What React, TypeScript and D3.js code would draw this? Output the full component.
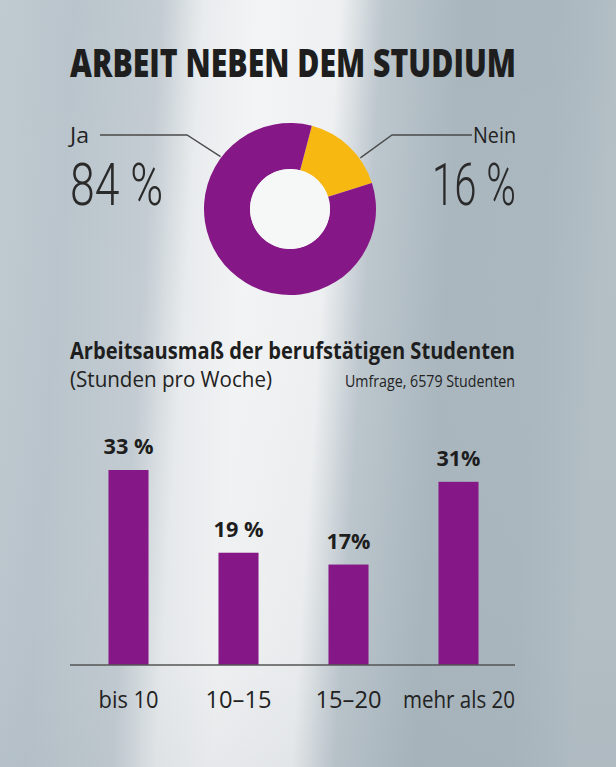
import React from "react";
import * as d3 from "d3";

const W = 616;
const H = 767;

const title = "ARBEIT NEBEN DEM STUDIUM";
const pieLabels = ["Nein", "Ja"];
const pieValues = [16, 84];
const pieColors = ["#f7b812", "#861786"];

const barTitle = "Arbeitsausmaß der berufstätigen Studenten";
const barSubtitle = "(Stunden pro Woche)";
const barSource = "Umfrage, 6579 Studenten";
const categories = ["bis 10", "10–15", "15–20", "mehr als 20"];
const barValues = [33, 19, 17, 31];
const barValueLabels = ["33 %", "19 %", "17%", "31%"];

const cx = 290;
const cy = 209;
const rOuter = 86;
const rInner = 40;

export default function App() {
  const pie = d3
    .pie<number>()
    .sort(null)
    .startAngle(0.257)
    .endAngle(0.257 + Math.PI * 2);
  const arcs = pie(pieValues);
  const arc = d3.arc<d3.PieArcDatum<number>>().innerRadius(rInner).outerRadius(rOuter);

  const x = d3
    .scaleBand<string>()
    .domain(categories)
    .range([73.5, 513.5])
    .paddingInner(0.636)
    .paddingOuter(0.318);
  const y = d3.scaleLinear().domain([0, 33]).range([665, 470]);

  const pt = (angleDeg: number, r: number) => {
    const a = (angleDeg * Math.PI) / 180;
    return [cx + r * Math.sin(a), cy - r * Math.cos(a)];
  };
  const jaEnd = pt(-53, rOuter + 1);
  const neinEnd = pt(54, rOuter + 1);
  const lineGen = d3.line();

  const font = "'Open Sans', 'DejaVu Sans', sans-serif";
  const thin = "Roboto, 'Open Sans', sans-serif";
  const sx = 0.8;

  return (
    <svg
      width={W}
      height={H}
      viewBox={`0 0 ${W} ${H}`}
      style={{ position: "fixed", left: 0, top: 0, display: "block" }}
    >
      <defs>
        <linearGradient id="bg" x1="0" y1="0" x2="1" y2="0.08">
          <stop offset="0" stopColor="#c0cad1" />
          <stop offset="0.12" stopColor="#b9c4cc" />
          <stop offset="0.26" stopColor="#c3ccd2" />
          <stop offset="0.33" stopColor="#e9ecee" />
          <stop offset="0.42" stopColor="#f3f4f5" />
          <stop offset="0.55" stopColor="#eef0f1" />
          <stop offset="0.62" stopColor="#bcc6cd" />
          <stop offset="0.75" stopColor="#a9b6be" />
          <stop offset="0.9" stopColor="#aab7bf" />
          <stop offset="1" stopColor="#b3bec5" />
        </linearGradient>
        <linearGradient id="shade" x1="0" y1="0" x2="0" y2="1">
          <stop offset="0" stopColor="#ffffff" stopOpacity="0" />
          <stop offset="0.85" stopColor="#8a98a2" stopOpacity="0.05" />
          <stop offset="1" stopColor="#8a98a2" stopOpacity="0.12" />
        </linearGradient>
      </defs>
      <rect width={W} height={H} fill="url(#bg)" />
      <rect width={W} height={H} fill="url(#shade)" />

      <g transform={`translate(70,77) scale(${sx},1)`}>
        <text
          x={0}
          y={0}
          fontFamily={font}
          fontWeight={800}
          fontSize={38}
          fill="#1e1e1e"
          textLength={446 / sx}
          lengthAdjust="spacingAndGlyphs"
        >
          {title}
        </text>
      </g>

      {arcs.map((a, i) => (
        <path key={i} d={arc(a) || ""} transform={`translate(${cx},${cy})`} fill={pieColors[i]} />
      ))}
      <circle cx={cx} cy={cy} r={rInner} fill="#f6f7f7" />

      <path
        d={lineGen([[100, 135], [187, 135], jaEnd as [number, number]]) || ""}
        fill="none"
        stroke="#4a4a4a"
        strokeWidth={1.3}
      />
      <path
        d={lineGen([neinEnd as [number, number], [392, 135], [472, 135]]) || ""}
        fill="none"
        stroke="#4a4a4a"
        strokeWidth={1.3}
      />

      <text x={70} y={143} fontFamily={font} fontSize={21} fill="#222" textLength={19} lengthAdjust="spacingAndGlyphs">
        {pieLabels[1]}
      </text>
      <text x={516} y={143} textAnchor="end" fontFamily={font} fontSize={21} fill="#222" textLength={43} lengthAdjust="spacingAndGlyphs">
        {pieLabels[0]}
      </text>
      <text x={70} y={205} fontFamily={thin} fontWeight={300} fontSize={60} fill="#2a2a2a" textLength={93} lengthAdjust="spacingAndGlyphs">
        {`${pieValues[1]} %`}
      </text>
      <text x={516} y={205} textAnchor="end" fontFamily={thin} fontWeight={300} fontSize={60} fill="#2a2a2a" textLength={84} lengthAdjust="spacingAndGlyphs">
        {`${pieValues[0]} %`}
      </text>

      <text x={70} y={359} fontFamily={font} fontWeight={700} fontSize={23} fill="#1e1e1e" textLength={445} lengthAdjust="spacingAndGlyphs">
        {barTitle}
      </text>
      <text x={70} y={387} fontFamily={font} fontSize={22} fill="#222" textLength={202} lengthAdjust="spacingAndGlyphs">
        {barSubtitle}
      </text>
      <text x={515} y={387} textAnchor="end" fontFamily={font} fontSize={17} fill="#222" textLength={170} lengthAdjust="spacingAndGlyphs">
        {barSource}
      </text>

      {categories.map((c, i) => {
        const bx = x(c) as number;
        const bw = x.bandwidth();
        return (
          <g key={c}>
            <rect x={bx} y={y(barValues[i])} width={bw} height={y(0) - y(barValues[i])} fill="#861786" />
            <text
              x={bx + bw / 2}
              y={y(barValues[i]) - 16}
              textAnchor="middle"
              fontFamily={font}
              fontWeight={700}
              fontSize={22}
              fill="#1e1e1e"
              textLength={barValueLabels[i].includes(" ") ? 50 : 44}
              lengthAdjust="spacingAndGlyphs"
            >
              {barValueLabels[i]}
            </text>
          </g>
        );
      })}
      <line x1={70} x2={515} y1={y(0)} y2={y(0)} stroke="#555" strokeWidth={1.5} />
      {categories.map((c, i) => {
        const bx = (x(c) as number) + x.bandwidth() / 2;
        const widths = [60, 66, 66, 112];
        return (
          <text
            key={c}
            x={i === 3 ? 515 : bx}
            y={708}
            textAnchor={i === 3 ? "end" : "middle"}
            fontFamily={font}
            fontSize={24}
            fill="#222"
            textLength={widths[i]}
            lengthAdjust="spacingAndGlyphs"
          >
            {c}
          </text>
        );
      })}
    </svg>
  );
}
